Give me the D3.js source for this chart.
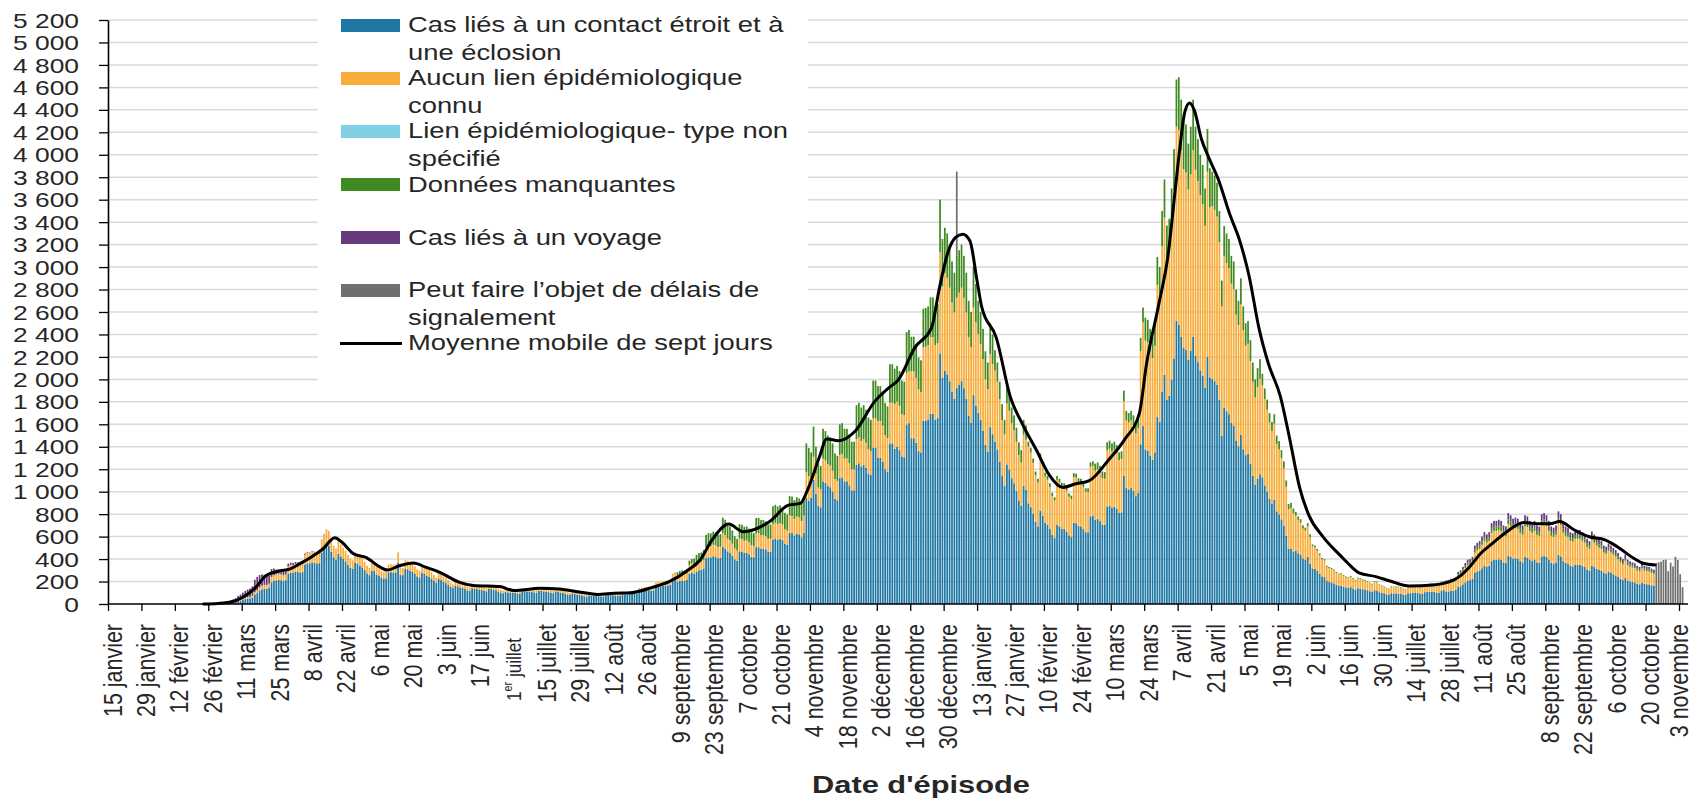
<!DOCTYPE html>
<html><head><meta charset="utf-8">
<script src="https://cdn.jsdelivr.net/npm/d3@7"></script>
<style>
body{margin:0;background:#fff}
svg{display:block}
text{font-family:"Liberation Sans","Arial",sans-serif;fill:#262626}
</style>
</head><body>
<svg id="c" width="1694" height="799"></svg>
<script>
// ---------------- DATA ----------------
const startDate = "2020-01-15";
const lastTickDate = "2021-11-03";
const barsStart = "2020-02-26";
const missingStart = "2020-09-09";
const travelEarlyStart = "2020-02-26";
const travelLateStart = "2021-07-28";

const tickLabels = ["15 janvier","29 janvier","12 février","26 février","11 mars","25 mars","8 avril","22 avril","6 mai","20 mai","3 juin","17 juin","1er juillet","15 juillet","29 juillet","12 août","26 août","9 septembre","23 septembre","7 octobre","21 octobre","4 novembre","18 novembre","2 décembre","16 décembre","30 décembre","13 janvier","27 janvier","10 février","24 février","10 mars","24 mars","7 avril","21 avril","5 mai","19 mai","2 juin","16 juin","30 juin","14 juillet","28 juillet","11 août","25 août","8 septembre","22 septembre","6 octobre","20 octobre","3 novembre"];
const yTickValues = [0,200,400,600,800,1000,1200,1400,1600,1800,2000,2200,2400,2600,2800,3000,3200,3400,3600,3800,4000,4200,4400,4600,4800,5000,5200];

// Cas liés à un contact étroit et à une éclosion (daily, from barsStart)
const contact = [
2,2,2,2,2,4,5, 10,11,13,14,18,26,30, 37,44,47,50,58,85,97, 118,130,136,136,146,193,205, 210,215,212,204,212,267,278,
278,286,286,279,284,352,362, 362,370,369,357,364,454,493, 532,520,464,416,396,448,424, 402,380,349,323,312,369,360,
342,326,302,273,257,295,293, 263,254,237,228,228,281,284, 280,281,368,260,257,312,309, 295,286,269,246,236,277,268,
251,242,227,207,187,225,213, 196,186,170,152,141,164,158, 148,143,134,122,118,141,138, 133,130,125,116,113,134,133,
128,122,112,102,95,109,102, 101,101,98,94,93,113,114, 111,112,108,103,100,119,118, 112,111,106,98,96,112,109,
102,98,92,84,80,94,90, 84,81,76,69,66,76,73, 71,72,70,67,66,79,81, 79,78,76,72,71,86,86,
86,90,91,89,91,114,118, 118,121,122,120,122,153,158, 158,162,166,165,170,216,225, 198,206,209,208,214,270,281,
267,288,300,303,317,407,416, 415,425,421,407,411,508,495, 469,457,432,398,383,470,466, 454,455,443,421,416,506,506,
493,494,486,467,468,574,583, 573,580,569,536,526,634,631, 611,627,620,594,634,944,917, 945,1106,980,875,861,1092,1078,
1050,1040,1001,938,924,1120,1127, 1092,1092,1057,1012,1012,1239,1253, 1225,1239,1211,1162,1148,1393,1393, 1300,1300,1266,1199,1179,1430,1430,
1383,1399,1370,1313,1307,1597,1610, 1476,1476,1435,1361,1345,1631,1634, 1643,1693,1693,1643,1655,2232,2015, 2077,2046,1984,1891,1829,1922,1953,
1984,1922,1829,1674,1612,1860,1767, 1701,1638,1544,1418,1355,1575,1512, 1446,1376,1267,1139,1050,1242,1197, 1120,1075,1005,922,877,1050,1018,
896,862,803,732,691,831,787, 725,707,667,614,589,707,691, 670,667,645,611,598,722,719, 694,691,667,639,639,781,787,
750,756,738,708,705,864,873, 858,867,849,810,816,1140,1032, 1020,1032,1008,960,990,1422,1584, 1377,1366,1323,1285,1350,1669,1620,
1890,2041,1820,1852,1998,2187,2522, 2486,2380,2279,2263,2173,2253,2380, 2210,2153,2080,2033,1924,2200,2018, 2002,1984,1950,1820,1498,1750,1716,
1690,1612,1586,1456,1404,1508,1378, 1325,1336,1246,1140,1060,1113,1155, 1128,1056,1001,935,891,930,825, 798,754,699,605,490,495,468,
476,452,438,406,394,418,360, 318,312,294,270,246,240,204, 198,192,184,171,162,164,156, 147,144,150,138,129,141,137,
132,129,123,114,108,123,120, 105,99,95,87,83,96,93, 95,93,91,84,81,96,96, 99,102,99,90,89,105,107,
108,110,108,101,99,120,123, 111,113,119,117,125,151,159, 175,193,209,212,223,276,289, 297,318,339,329,339,382,392,
392,398,392,371,366,429,419, 403,408,403,382,371,419,413, 392,382,392,371,366,424,429, 419,392,366,360,371,437,424,
382,366,360,339,334,350,350, 350,339,329,307,297,342,329, 313,303,297,276,270,286,276, 265,254,241,223,212,233,209,
201,196,192,180,175,191,180, 176,175,167,162];

// Aucun lien épidémiologique connu (daily, from barsStart)
const noLink = [
0,0,1,1,1,1,1, 2,3,3,4,4,6,8, 9,11,12,13,15,21,24, 30,33,34,34,36,48,51, 53,54,53,51,53,67,70,
70,72,72,70,71,88,90, 90,93,92,89,91,114,123, 133,130,116,104,99,112,106, 100,95,87,81,78,92,90,
85,82,76,68,64,74,73, 66,63,59,57,57,70,71, 70,70,92,65,64,78,77, 74,71,67,62,59,69,67,
63,61,57,52,47,56,53, 49,47,43,38,35,41,40, 37,36,33,30,30,35,35, 33,33,31,29,28,34,33,
32,30,28,25,24,27,26, 25,25,25,23,23,28,28, 28,28,27,26,25,30,29, 28,28,26,25,24,28,27,
25,24,23,21,20,23,22, 21,20,19,17,16,19,18, 18,18,17,17,17,20,20, 20,20,19,18,18,21,21,
22,23,23,22,23,29,29, 29,30,30,30,31,38,40, 40,41,42,41,43,54,56, 57,59,60,59,61,77,80,
64,70,72,73,77,98,101, 101,103,102,99,100,123,120, 113,110,104,96,93,114,113, 110,111,107,102,101,122,123,
120,119,118,114,113,139,141, 139,141,138,130,128,154,153, 147,152,151,144,153,229,223, 175,205,182,162,160,203,200,
195,193,186,174,172,208,209, 203,203,196,187,187,230,233, 227,230,225,216,213,259,259, 330,330,322,305,299,363,363,
398,403,394,378,376,460,464, 595,595,579,549,543,657,658, 662,682,682,662,668,900,812, 871,858,832,793,767,806,819,
832,806,767,702,676,780,741, 702,676,636,584,558,650,624, 633,602,555,499,459,543,523, 490,471,439,403,383,459,445,
506,486,453,413,391,469,445, 410,399,376,346,332,399,391, 378,376,364,344,338,408,406, 392,391,376,360,360,441,445,
437,441,430,413,411,504,509, 500,506,495,472,476,665,602, 595,602,588,560,577,829,924, 969,962,931,905,950,1174,1140,
1295,1399,1247,1269,1369,1498,1728, 1735,1661,1591,1580,1517,1572,1661, 1657,1614,1560,1525,1443,1649,1513, 1540,1526,1500,1400,1152,1346,1320,
1300,1240,1220,1120,1080,1160,1060, 975,982,916,838,780,819,851, 819,768,728,680,648,675,600, 579,547,507,440,355,360,339,
311,297,287,266,259,273,235, 196,192,181,166,152,148,126, 122,118,113,105,100,102,96, 91,89,92,85,80,87,85,
81,80,76,70,67,76,74, 65,61,58,54,51,59,57, 58,57,56,52,50,59,59, 61,63,61,55,55,65,66,
67,68,67,62,61,74,76, 74,75,79,77,82,100,105, 115,128,138,140,147,182,191, 196,210,224,217,224,252,259,
259,261,259,245,241,283,276, 266,269,266,252,245,276,273, 259,252,259,245,241,280,283, 276,259,241,238,245,289,280,
252,241,238,224,220,231,231, 231,224,217,203,196,227,217, 206,199,196,182,178,189,182, 175,168,159,147,140,154,138,
133,129,128,119,115,126,119, 117,115,110,107];

// Lien épidémiologique - type non spécifié (no visible values)
const unspecified = [];

// Données manquantes (daily, from missingStart)
const missing = [
28,29,30,30,31,39,40, 73,79,82,83,87,111,114, 113,116,115,111,112,138,135, 128,125,118,109,104,128,127,
124,124,121,115,114,138,138, 134,135,132,127,128,157,159, 156,158,155,146,143,173,172, 167,171,169,162,173,257,250,
230,269,238,213,209,265,262, 255,252,243,228,224,272,274, 265,265,257,246,246,301,304, 298,301,294,282,279,338,338,
310,310,302,286,282,342,342, 314,318,311,299,297,363,366, 309,309,301,285,282,342,343, 345,355,355,345,347,468,423,
402,396,384,366,354,372,378, 384,372,354,324,312,360,342, 297,286,270,248,237,275,264, 181,172,158,142,131,155,150,
140,134,126,115,110,131,127, 43,42,39,35,33,40,38, 35,34,32,30,29,34,33, 32,32,31,30,29,35,35,
34,33,32,31,31,38,38, 63,63,62,59,59,72,73, 72,72,71,68,68,95,86, 85,86,84,80,83,119,132,
204,202,196,190,200,247,240, 315,340,303,309,333,365,420, 469,449,430,427,410,425,449, 383,373,360,352,333,381,349,
308,305,300,280,230,269,264, 260,248,244,224,216,232,212, 200,202,188,172,160,168,174, 103,96,91,85,81,85,75,
73,69,64,55,45,45,43, 33,31,30,28,27,29,25, 16,16,15,14,12,12,10, 10,10,9,9,8,8,8,
7,7,8,7,6,7,7, 7,6,6,6,5,6,6, 5,5,5,4,4,5,5, 5,5,5,4,4,5,5,
5,5,5,5,4,5,5, 5,6,5,5,5,6,6, 10,11,11,11,12,14,15, 17,18,20,20,21,26,27,
28,30,32,31,32,36,37, 37,38,37,35,35,41,40, 38,39,38,36,35,40,39, 37,36,37,35,35,40,41,
40,37,35,34,35,41,40, 36,35,34,32,32,33,33, 33,32,31,29,28,32,31, 30,29,28,26,26,27,26,
25,24,23,21,20,22,20, 19,19,18,17,17,18,17, 17,17,16,15];

// Cas liés à un voyage
const travelEarly = [1,2,3,2,3,5,6, 10,14,18,24,30,40,46, 55,62,70,75,85,110,120, 110,100,90,80,70,70,60, 45,40,35,30,25,25,20, 18,16,14,12,10,10,8, 6,6,5,5,4,4,4];
const travelLate = [
15,15,16,15,16,20,21, 23,26,28,28,29,36,38, 39,42,45,43,45,50,52, 52,53,52,49,48,57,55,
53,54,53,50,49,55,55, 52,50,52,49,48,56,57, 55,52,48,48,49,58,56, 50,48,48,45,44,46,46,
46,45,43,41,39,45,43, 41,40,39,36,36,38,36, 35,34,32,29,28,31,28, 27,26,25,24,23,25,24,
23,23,22,21];

// Peut faire l'objet de délais de signalement
const delayDates = ["2021-01-04","2021-10-24","2021-10-25","2021-10-26","2021-10-27","2021-10-28","2021-10-29","2021-10-30","2021-10-31","2021-11-01","2021-11-02","2021-11-03","2021-11-04"];
const delayCounts = [750,365,372,378,392,395,292,368,335,420,392,265,150];

// Moyenne mobile de sept jours (day offset from startDate, value)
const avgDayOffsets = [40,46,51,54,58,62,66,72,76,80,86,90,95,98,103,108,114,117,122,128,133,139,147,153,164,170,181,189,198,205,212,219,228,235,242,248,253,260,266,277,285,290,293,298,301,306,313,321,327,331,338,345,348,352,355,358,361,364,366,372,378,383,389,394,400,405,411,419,426,432,435,440,444,447,449,451,453,455,458,461,465,470,474,478,482,486,491,495,499,503,509,516,520,524,531,537,545,555,562,566,571,575,580,586,593,599,604,608,614,620,627,632,639,643,648];
const avgValues = [0,5,15,35,80,150,250,295,310,355,430,490,590,550,445,415,328,302,340,365,328,282,195,165,155,120,140,133,105,85,95,100,148,199,288,392,570,712,644,733,880,896,1015,1311,1470,1454,1540,1800,1925,1994,2285,2463,2789,3145,3264,3293,3234,2878,2641,2374,1840,1602,1365,1157,1038,1068,1098,1280,1470,1700,2141,2657,3107,3687,4073,4379,4460,4395,4138,3977,3783,3461,3236,2914,2463,2141,1851,1465,1046,789,596,435,348,278,244,205,161,170,199,244,348,452,542,646,726,714,714,735,661,601,571,512,408,363,348];

const seriesKeys = ["contact","noLink","unspecified","missing","travel","delay"];
const seriesLabels = {
  contact:["Cas liés à un contact étroit et à","une éclosion"],
  noLink:["Aucun lien épidémiologique","connu"],
  unspecified:["Lien épidémiologique- type non","spécifié"],
  missing:["Données manquantes"],
  travel:["Cas liés à un voyage"],
  delay:["Peut faire l’objet de délais de","signalement"]
};
const avgLabel = "Moyenne mobile de sept jours";
const xTitle = "Date d'épisode";

// ---------------- STYLE ----------------
const colors = {contact:"#1f77a3", noLink:"#f8ad3b", unspecified:"#7fd0e2", missing:"#3f8a20", travel:"#673b7b", delay:"#6f6f70"};
const plotL = 108, plotR = 1679, axisEnd = 1688, plotB = 604, plotT = 20;

// ---------------- BUILD ----------------
const parse = d3.utcParse("%Y-%m-%d");
const iso = d3.utcFormat("%Y-%m-%d");
const t0 = parse(startDate);
const dayDate = i => d3.utcDay.offset(t0, i);
const offsetOf = s => d3.utcDay.count(t0, parse(s));

const x = d3.scaleUtc().domain([t0, parse(lastTickDate)]).range([plotL, plotR]);
const y = d3.scaleLinear().domain([0, 5200]).range([plotB, plotT]);

const oBars = offsetOf(barsStart), oMiss = offsetOf(missingStart),
      oTE = offsetOf(travelEarlyStart), oTL = offsetOf(travelLateStart);
const delayMap = new Map(delayDates.map((d,i)=>[d, delayCounts[i]]));
const lastDay = offsetOf(delayDates[delayDates.length-1]);

const rows = d3.range(oBars, lastDay+1).map(day => {
  const date = dayDate(day), k = day - oBars;
  return {
    date,
    contact: contact[k] ?? 0,
    noLink: noLink[k] ?? 0,
    unspecified: unspecified[k] ?? 0,
    missing: missing[day - oMiss] ?? 0,
    travel: (travelEarly[day - oTE] ?? 0) + (travelLate[day - oTL] ?? 0),
    delay: delayMap.get(iso(date)) ?? 0
  };
});

const svg = d3.select("#c");

// gridlines
svg.append("g").selectAll("line").data(yTickValues.filter(v=>v>0)).join("line")
  .attr("x1", plotL).attr("x2", axisEnd)
  .attr("y1", d=>y(d)).attr("y2", d=>y(d))
  .attr("stroke", "#d9d9d9").attr("stroke-width", 1.5);

// legend background
svg.append("rect").attr("x",318).attr("y",0).attr("width",490).attr("height",390).attr("fill","#fff");

// bars
const slot = x(dayDate(1)) - x(dayDate(0));
const bw = slot * 0.72;
const stacked = d3.stack().keys(seriesKeys)(rows);
svg.append("g").selectAll("g").data(stacked).join("g")
  .attr("fill", d => colors[d.key])
  .selectAll("rect").data(d => d.filter(s => s[1] > s[0])).join("rect")
  .attr("x", d => x(d.data.date) + (slot - bw)/2)
  .attr("width", bw)
  .attr("y", d => y(d[1]))
  .attr("height", d => y(d[0]) - y(d[1]));

// moving average line
const avgPts = avgDayOffsets.map((d,i)=>({date: dayDate(d), v: avgValues[i]}));
svg.append("path").datum(avgPts)
  .attr("d", d3.line().x(d=>x(d.date)).y(d=>y(d.v)).curve(d3.curveMonotoneX))
  .attr("fill","none").attr("stroke","#000").attr("stroke-width",3)
  .attr("stroke-linejoin","round").attr("stroke-linecap","round");

// y axis
const fr = d3.formatLocale({decimal:",", thousands:"\u00a0", grouping:[3], currency:["","€"]});
const fmt = fr.format(",d");
const yAx = svg.append("g").attr("transform", `translate(${plotL},0)`)
  .call(d3.axisLeft(y).tickValues(yTickValues).tickFormat(fmt).tickSize(9).tickSizeOuter(0));
yAx.attr("font-size", null).attr("font-family", null);
yAx.select(".domain").attr("stroke","#000").attr("stroke-width",1.6);
yAx.selectAll(".tick line").attr("stroke","#000").attr("stroke-width",1.3);
const yt = yAx.selectAll(".tick text").attr("font-size", 19.8).attr("fill","#262626");
const yW = yt.filter(d => d === 5200).node().getComputedTextLength();
const ky = 66 / yW;
yt.attr("x", null).attr("dy", null).attr("text-anchor","end")
  .attr("transform", `translate(-29,7.1) scale(${ky},1)`);

// x axis
const tickDates = tickLabels.map((_,i)=>dayDate(i*14));
const labelOf = d => tickLabels[Math.round(d3.utcDay.count(t0, d)/14)];
const xAx = svg.append("g").attr("transform", `translate(0,${plotB})`)
  .call(d3.axisBottom(x).tickValues(tickDates).tickFormat(labelOf).tickSize(7).tickSizeOuter(0));
xAx.attr("font-size", null).attr("font-family", null);
xAx.select(".domain").remove();
xAx.selectAll(".tick line").attr("stroke","#000").attr("stroke-width",1.3);
svg.append("line").attr("x1",plotL).attr("x2",axisEnd).attr("y1",plotB).attr("y2",plotB)
  .attr("stroke","#000").attr("stroke-width",1.6);
const xt = xAx.selectAll(".tick text").attr("font-size", 21.4).attr("fill","#262626");
const xW = xt.filter(d => labelOf(d) === "15 janvier").node().getComputedTextLength();
const fsx = 21.4 * 93 / xW;
const sx = 18.4 / (0.716 * fsx);
const lastLabel = tickLabels[tickLabels.length-1];
xt.attr("font-size", fsx).attr("y", null).attr("dy", null).attr("text-anchor","end")
  .attr("transform", d => `translate(${labelOf(d) === lastLabel ? 8.5 : 13},20) rotate(-90) scale(1,${sx})`);
xt.filter(d => labelOf(d).startsWith("1er")).each(function(d){
  const t = d3.select(this).text(null).attr("font-size", fsx*0.8)
    .attr("transform", `translate(11,34) rotate(-90) scale(1,${sx})`);
  t.append("tspan").text("1");
  t.append("tspan").text("er").attr("font-size", fsx*0.5).attr("dy", -fsx*0.35);
  t.append("tspan").text(labelOf(d).slice(3)).attr("dy", fsx*0.35);
});

// x title
const title = svg.append("text").text(xTitle).attr("font-weight",700).attr("font-size",23.3)
  .attr("text-anchor","middle").attr("fill","#1a1a1a");
const tW = title.node().getComputedTextLength();
title.attr("transform", `translate(921,793) scale(${218/tW},1)`);

// legend
const lg = svg.append("g");
const swatchTops = [19,72,125,178,231,284];
const textBases = [[32,60],[85,113],[138,166],[192],[245],[297,325]];
seriesKeys.forEach((k,i)=>{
  lg.append("rect").attr("x",341).attr("y",swatchTops[i]).attr("width",59).attr("height",13).attr("fill",colors[k]);
});
lg.append("line").attr("x1",340).attr("x2",402).attr("y1",343.5).attr("y2",343.5).attr("stroke","#000").attr("stroke-width",3);
const lgTexts = [];
seriesKeys.forEach((k,i)=>{
  seriesLabels[k].forEach((s,j)=>{
    lgTexts.push(lg.append("text").text(s).attr("font-size",22).datum(textBases[i][j]));
  });
});
lgTexts.push(lg.append("text").text(avgLabel).attr("font-size",22).datum(350));
const lW = lgTexts[0].node().getComputedTextLength();
const kl = 375.6 / lW;
lgTexts.forEach(t => t.attr("transform", `translate(408,${t.datum()}) scale(${kl},1)`));
</script>
</body></html>
